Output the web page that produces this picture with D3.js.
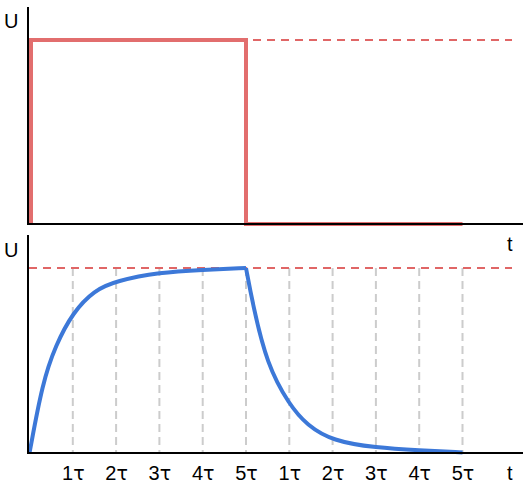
<!DOCTYPE html>
<html>
<head>
<meta charset="utf-8">
<script src="https://cdn.jsdelivr.net/npm/d3@7"></script>
<style>
  body { margin: 0; background: #fff; }
  text { font-family: "Liberation Sans", Arial, sans-serif; }
</style>
</head>
<body>
<div id="chart"></div>
<script>
// time in units of tau, voltage as a fraction of U
var tickValues = [1, 2, 3, 4, 5, 6, 7, 8, 9, 10];
var tickLabels = ["1τ", "2τ", "3τ", "4τ", "5τ", "1τ", "2τ", "3τ", "4τ", "5τ"];

var pulseT = [0, 0, 5, 5, 10];
var pulseU = [0, 1, 1, 0, 0];

var chargeT = [0, 0.3, 0.6, 1, 1.5, 2, 3, 4, 5];
var chargeU = [0, 0.38, 0.58, 0.76, 0.88, 0.93, 0.977, 0.99, 1.0];

var dischargeT = [5, 5.16, 5.48, 6, 6.41, 7, 8, 9, 10];
var dischargeU = [1.0, 0.8, 0.48, 0.26, 0.15, 0.065, 0.028, 0.014, 0.003];

const width = 532, height = 485;
const red = '#e06666', blue = '#3c78d8', grid = '#cccccc';

var svg = d3.select('#chart').append('svg')
  .attr('width', width)
  .attr('height', height);

var x = d3.scaleLinear().domain([0, 10]).range([29.5, 462.5]);
var yTop = d3.scaleLinear().domain([0, 1]).range([224, 40]);
var yBot = d3.scaleLinear().domain([0, 1]).range([453, 268]);

var axisLeftX = 28, axisRightX = 523;

// ---- top panel: input pulse ----
// reference dashed level
svg.append('line')
  .attr('x1', x(5) + 7).attr('x2', 512)
  .attr('y1', yTop(1)).attr('y2', yTop(1))
  .attr('stroke', red).attr('stroke-width', 2)
  .attr('stroke-dasharray', '8,6');

var pulse = pulseT.map(function(t, i) { return [t, pulseU[i]]; });
svg.append('path')
  .datum(pulse)
  .attr('fill', 'none')
  .attr('stroke', red)
  .attr('stroke-width', 4)
  .attr('stroke-opacity', 0.95)
  .attr('d', d3.line()
    .x(function(d) { return x(d[0]) + (d[0] === 0 ? 1.5 : 0); })
    .y(function(d) { return yTop(d[1]); }));

// axes
svg.append('line')
  .attr('x1', axisLeftX).attr('x2', axisLeftX)
  .attr('y1', 7).attr('y2', yTop(0) + 1)
  .attr('stroke', 'black').attr('stroke-width', 2);
svg.append('line')
  .attr('x1', axisLeftX - 1).attr('x2', axisRightX)
  .attr('y1', yTop(0)).attr('y2', yTop(0))
  .attr('stroke', 'black').attr('stroke-width', 2);

svg.append('text').text('U')
  .attr('x', 4).attr('y', 28).style('font-size', '20px');
svg.append('text').text('t')
  .attr('x', 507).attr('y', 251).style('font-size', '20px');

// ---- bottom panel: capacitor voltage ----
// grey tau guides
svg.append('g')
  .selectAll('line')
  .data(tickValues)
  .join('line')
  .attr('x1', function(d) { return x(d); })
  .attr('x2', function(d) { return x(d); })
  .attr('y1', yBot(1)).attr('y2', yBot(0))
  .attr('stroke', grid).attr('stroke-width', 2)
  .attr('stroke-dasharray', '8,5');

svg.append('line')
  .attr('x1', axisLeftX + 1).attr('x2', 512)
  .attr('y1', yBot(1)).attr('y2', yBot(1))
  .attr('stroke', red).attr('stroke-width', 2)
  .attr('stroke-dasharray', '8,6');

var curve = d3.line()
  .x(function(d) { return x(d[0]); })
  .y(function(d) { return yBot(d[1]); })
  .curve(d3.curveBasis);

var charge = chargeT.map(function(t, i) { return [t, chargeU[i]]; });
var discharge = dischargeT.map(function(t, i) { return [t, dischargeU[i]]; });

[charge, discharge].forEach(function(seg) {
  svg.append('path')
    .datum(seg)
    .attr('fill', 'none')
    .attr('stroke', blue)
    .attr('stroke-width', 4)
    .attr('stroke-linejoin', 'round')
    .attr('d', curve);
});

svg.append('line')
  .attr('x1', axisLeftX).attr('x2', axisLeftX)
  .attr('y1', 235).attr('y2', yBot(0) + 1)
  .attr('stroke', 'black').attr('stroke-width', 2);
svg.append('line')
  .attr('x1', axisLeftX - 1).attr('x2', axisRightX)
  .attr('y1', yBot(0)).attr('y2', yBot(0))
  .attr('stroke', 'black').attr('stroke-width', 2);

// tau tick labels
var xAxis = d3.axisBottom(x)
  .tickValues(tickValues)
  .tickSize(0)
  .tickPadding(0)
  .tickFormat(function(d, i) { return tickLabels[i]; });

var gx = svg.append('g')
  .attr('transform', 'translate(0,' + yBot(0) + ')')
  .call(xAxis);
gx.select('.domain').remove();
gx.selectAll('text')
  .attr('dy', null)
  .attr('y', 27)
  .attr('fill', '#000')
  .style('font-size', '20px')
  .style('font-family', '"Liberation Sans", Arial, sans-serif')
  .each(function() {
    // the tau glyph is wider in the original, take it from DejaVu
    var label = d3.select(this).text();
    var t = d3.select(this).text(null);
    t.append('tspan').text(label.slice(0, -1));
    t.append('tspan').text(label.slice(-1))
      .style('font-family', '"DejaVu Sans", sans-serif')
      .style('font-size', '19px');
  });

svg.append('text').text('U')
  .attr('x', 4).attr('y', 257).style('font-size', '20px');
svg.append('text').text('t')
  .attr('x', 507).attr('y', 480).style('font-size', '20px');
</script>
</body>
</html>
